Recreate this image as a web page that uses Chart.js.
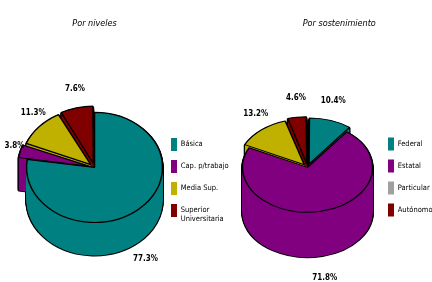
<!DOCTYPE html>
<html>
<head>
<meta charset="utf-8">
<script src="https://cdn.jsdelivr.net/npm/chart.js@4"></script>
<style>
html, body { margin: 0; padding: 0; background: #fff; overflow: hidden; }
.box { position: absolute; top: 0; height: 282px; }
</style>
</head>
<body>
<div class="box" style="left:0;width:260px"><canvas id="c1"></canvas></div>
<div class="box" style="left:216px;width:230px"><canvas id="c2"></canvas></div>
<script>
// Por niveles
nivLabels = ['Básica', 'Cap. p/trabajo', 'Media Sup.', ['Superior', 'Universitaria']]
nivValues = [77.3, 3.8, 11.3, 7.6]
nivOffset = [0, 20, 20, 20]

// Por sostenimiento
sosLabels = ['Federal', 'Estatal', 'Particular', 'Autónomo']
sosValues = [10.4, 71.8, 13.2, 4.6]
sosOffset = [20, 0, 20, 20]

colors    = ['#008080', '#800080', '#c0b000', '#800000']
nivLegend = ['#008080', '#800080', '#c0b000', '#800000']
sosLegend = ['#008080', '#800080', '#a0a0a0', '#800000']

FONT = '"Liberation Sans Narrow", "DejaVu Sans Condensed", Arial, sans-serif'
LEGEND_PAD = 9
LEGEND_SIZE = 7.5

// fake 3d: squash the pie and stack it down
pie3d = {
    id: 'pie3d',
    beforeDatasetDraw(chart, args, o) {
        const ctx = chart.ctx
        const arcs = chart.getDatasetMeta(0).data
        const cx = arcs[0].x, cy = arcs[0].y
        function layer(dy, extra) {
            ctx.save()
            ctx.translate(cx, cy + dy)
            ctx.scale(1, o.tilt)
            ctx.translate(-cx, -cy)
            arcs.forEach(a => {
                const keep = a.options
                if (extra) a.options = Object.assign({}, keep, extra)
                a.draw(ctx)
                a.options = keep
            })
            ctx.restore()
        }
        for (let d = o.depth; d > 0; d--) layer(d, {backgroundColor: '#000', borderColor: '#000', borderWidth: 2.5})
        for (let d = o.depth; d > 0; d--) layer(d, {borderWidth: 0})
        layer(0, null)
        return false
    },
    afterDatasetsDraw(chart, args, o) {
        const ctx = chart.ctx
        const arcs = chart.getDatasetMeta(0).data
        const vals = chart.data.datasets[0].data
        ctx.save()
        ctx.font = 'bold 8px ' + FONT
        ctx.fillStyle = '#000'
        ctx.textAlign = 'center'
        ctx.textBaseline = 'middle'
        arcs.forEach((a, i) => {
            const mid = (a.startAngle + a.endAngle) / 2
            const c = Math.cos(mid), s = Math.sin(mid)
            const r = a.outerRadius + (a.options.offset || 0) / 4
            const x = a.x + c * (r + o.padX)
            const y = a.y + s * (r * o.tilt + o.padY) + (s > 0 ? o.depth : 0)
            ctx.fillText(vals[i].toFixed(1) + '%', x, y)
        })
        ctx.restore()
    }
}

// width chart.js gives a one-column legend
function legendWidth(labels) {
    const m = document.createElement('canvas').getContext('2d')
    m.font = LEGEND_SIZE + 'px ' + FONT
    let w = 0
    labels.forEach(l => [].concat(l).forEach(t => { w = Math.max(w, m.measureText(t).width) }))
    return 2 * LEGEND_PAD + 6 + LEGEND_SIZE / 2 + w
}

function plot(id, title, labels, values, offsets, legendColors, radius, tilt, depth, canvasW, padLeft, chartRight, titleFull, legendTop) {
    const padRight = Math.max(0, canvasW - chartRight - legendWidth(labels))
    return new Chart(document.getElementById(id), {
        type: 'pie',
        data: {
            labels: labels,
            datasets: [{
                data: values,
                backgroundColor: colors,
                borderColor: '#000',
                borderWidth: 1.5,
                offset: offsets
            }]
        },
        plugins: [pie3d],
        options: {
            responsive: true,
            maintainAspectRatio: false,
            animation: false,
            events: [],
            radius: radius,
            layout: { padding: { left: padLeft, right: padRight, top: 0, bottom: 6 } },
            plugins: {
                pie3d: { tilt: tilt, depth: depth, padX: 10, padY: 22 },
                tooltip: { enabled: false },
                title: {
                    display: true,
                    fullSize: titleFull,
                    text: title,
                    color: '#000',
                    font: { family: FONT, size: 9, style: 'italic', weight: 'normal' },
                    padding: { top: 18, bottom: 30 }
                },
                legend: {
                    position: 'right',
                    align: 'center',
                    fullSize: false,
                    title: { display: true, text: '', padding: { top: legendTop, bottom: 0 }, font: { size: 1 } },
                    labels: {
                        boxWidth: 6,
                        boxHeight: 13,
                        padding: LEGEND_PAD,
                        color: '#000',
                        font: { family: FONT, size: LEGEND_SIZE },
                        generateLabels: chart =>
                            Chart.overrides.doughnut.plugins.legend.labels.generateLabels(chart).map((l, i) =>
                                Object.assign(l, { fillStyle: legendColors[i], strokeStyle: legendColors[i], lineWidth: 0 }))
                    }
                }
            }
        }
    })
}

plot('c1', 'Por niveles', nivLabels, nivValues, nivOffset, nivLegend, 68, 0.81, 33, 260, 27, 163, false, 24)
plot('c2', 'Por sostenimiento', sosLabels, sosValues, sosOffset, sosLegend, 65, 0.69, 45, 230, 20, 164, true, 18)
</script>
</body>
</html>
